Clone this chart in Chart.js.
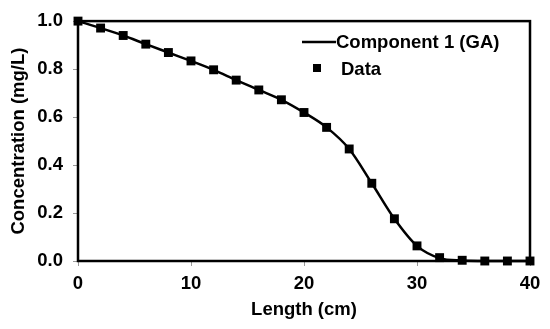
<!DOCTYPE html>
<html>
<head>
<meta charset="utf-8">
<script src="https://cdn.jsdelivr.net/npm/chart.js@4/dist/chart.umd.min.js"></script>
<style>
  html, body { margin: 0; padding: 0; background: #fff; }
  #wrap { width: 550px; height: 329px; }
</style>
</head>
<body>
<div id="wrap"><canvas id="concChart" width="550" height="329"></canvas></div>
<script>
// length along column (cm)
const lengths = [0, 2, 4, 6, 8, 10, 12, 14, 16, 18, 20, 22, 24, 26, 28, 30, 32, 34, 36, 38, 40];
// measured concentration (mg/L)
const dataValues = [1.0, 0.971, 0.94, 0.904, 0.869, 0.834, 0.797, 0.754, 0.713, 0.672, 0.619, 0.557, 0.467, 0.324, 0.176, 0.063, 0.014, 0.003, 0.0, 0.0, 0.0];
// fitted curve, component 1 (GA)
const modelValues = [1.0, 0.971, 0.94, 0.904, 0.869, 0.834, 0.797, 0.754, 0.713, 0.672, 0.619, 0.557, 0.467, 0.324, 0.176, 0.063, 0.012, 0.002, 0.0, 0.0, 0.0];
const xTicks = [0, 10, 20, 30, 40];
const yTicks = [0.0, 0.2, 0.4, 0.6, 0.8, 1.0];

const font = "'Liberation Sans', Arial, sans-serif";

const frameBox = {
  id: "frameBox",
  beforeDatasetsDraw(chart) {
    const a = chart.chartArea;
    const ctx = chart.ctx;
    ctx.save();
    ctx.strokeStyle = "#000";
    ctx.lineWidth = 2.5;
    ctx.strokeRect(a.left, a.top, a.right - a.left, a.bottom - a.top);
    ctx.restore();
  },
  afterDraw(chart) {
    const ctx = chart.ctx;
    ctx.save();
    ctx.font = "bold 18.5px " + font;
    ctx.fillStyle = "#000";
    ctx.textBaseline = "middle";
    // line sample
    ctx.strokeStyle = "#000";
    ctx.lineWidth = 2.5;
    ctx.beginPath();
    ctx.moveTo(302, 42);
    ctx.lineTo(336, 42);
    ctx.stroke();
    ctx.fillText("Component 1 (GA)", 336, 43);
    // square sample
    ctx.fillRect(313, 64, 8, 8);
    ctx.fillText("Data", 341, 70);
    ctx.restore();
  }
};

const ctx = document.getElementById("concChart").getContext("2d");
new Chart(ctx, {
  type: "scatter",
  data: {
    datasets: [
      {
        label: "Component 1 (GA)",
        data: lengths.map((x, i) => ({ x: x, y: modelValues[i] })),
        showLine: true,
        borderColor: "#000",
        borderWidth: 2.5,
        pointRadius: 0,
        cubicInterpolationMode: "monotone",
        clip: false,
        order: 2
      },
      {
        label: "Data",
        data: lengths.map((x, i) => ({ x: x, y: dataValues[i] })),
        showLine: false,
        pointStyle: "rect",
        pointRadius: 6.3,
        pointBorderWidth: 0,
        backgroundColor: "#000",
        borderColor: "#000",
        clip: false,
        order: 1
      }
    ]
  },
  options: {
    responsive: false,
    animation: false,
    layout: { padding: { top: 17, right: 20, left: 0, bottom: 0 } },
    scales: {
      x: {
        type: "linear",
        min: 0,
        max: 40,
        afterBuildTicks: s => { s.ticks = xTicks.map(v => ({ value: v })); },
        afterFit: s => { s.height = 68; },
        grid: { drawOnChartArea: false, drawTicks: true, tickLength: 5, color: "#999" },
        border: { display: false },
        ticks: { color: "#000", font: { family: font, size: 18.5, weight: "bold" }, padding: 7, maxRotation: 0 },
        title: {
          display: true,
          text: "Length (cm)",
          color: "#000",
          font: { family: font, size: 18.5, weight: "bold" },
          padding: { top: 0, bottom: 8 }
        }
      },
      y: {
        min: 0,
        max: 1,
        afterBuildTicks: s => { s.ticks = yTicks.map(v => ({ value: v })); },
        afterFit: s => { s.width = 78; },
        grid: { drawOnChartArea: false, drawTicks: true, tickLength: 5, color: "#999" },
        border: { display: false },
        ticks: {
          color: "#000",
          font: { family: font, size: 18.5, weight: "bold" },
          padding: 10,
          callback: v => v.toFixed(1)
        },
        title: {
          display: true,
          text: "Concentration (mg/L)",
          color: "#000",
          font: { family: font, size: 18.5, weight: "bold" },
          padding: { top: 8, bottom: 0 }
        }
      }
    },
    plugins: {
      legend: { display: false },
      tooltip: { enabled: false }
    }
  },
  plugins: [frameBox]
});
</script>
</body>
</html>
